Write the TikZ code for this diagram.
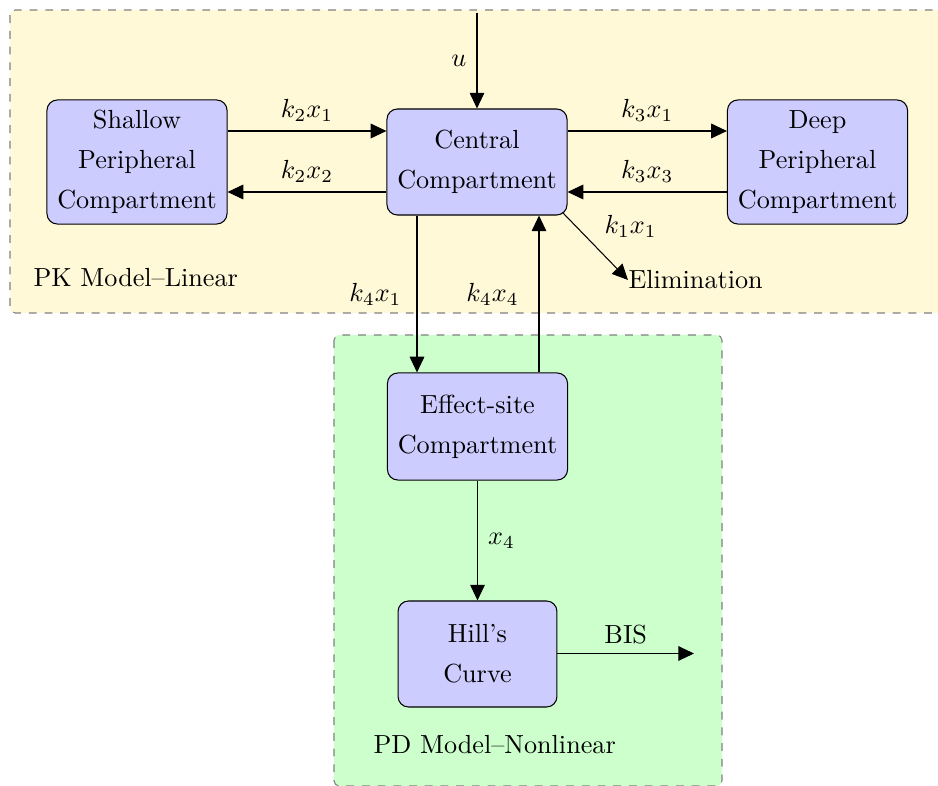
\documentclass[tikz,border=0pt]{standalone}
\usetikzlibrary{arrows.meta}
\definecolor{pkfill}{RGB}{255,249,215}
\definecolor{pdfill}{RGB}{204,255,204}
\definecolor{boxfill}{RGB}{204,204,255}
\begin{document}
\begin{tikzpicture}[x=0.382pt,y=-0.382pt,
  region/.style={draw=gray, dashed, rounded corners=2pt},
  compartment/.style={draw, fill=boxfill, rounded corners=4pt, align=center, inner sep=0pt, minimum width=68.8pt, font=\fontsize{10}{15.3}\selectfont},
  flow/.style={-{Triangle[length=6pt,width=5.6pt]}},
  plain/.style={font=\fontsize{10}{12}\selectfont},
]
\useasboundingbox (0,0) rectangle (938,786);
\path[region, fill=pkfill] (10,10) rectangle (960,313);
\path[region, fill=pdfill] (334,335) rectangle (722,786);

\node[compartment, minimum height=47.4pt] (shallow) at (137,162) {Shallow\\Peripheral\\Compartment};
\node[compartment, minimum height=40.5pt] (central) at (477,162) {Central\\Compartment};
\node[compartment, minimum height=47.4pt] (deep) at (817.5,162) {Deep\\Peripheral\\Compartment};
\node[compartment, minimum height=40.9pt] (effect) at (477.5,426.5) {Effect-site\\Compartment};
\node[compartment, minimum height=40.5pt, minimum width=60.7pt] (hill) at (477.5,654) {Hill's\\Curve};

\node[plain, anchor=west, inner sep=0pt] (elim) at (628,280) {Elimination};
\node[plain, anchor=base west, inner sep=0pt] (pk) at (33,287) {PK Model--Linear};
\node[plain, anchor=base west, inner sep=0pt] (pd) at (373,753) {PD Model--Nonlinear};

\coordinate (uin) at (477,13);
\coordinate (bisout) at (694,653.5);

\draw[flow] (uin) -- node[left=0.5pt] {$u$} (central.north);
\draw[flow] (shallow.east |- 0,131) -- node[above] {$k_2x_1$} (central.west |- 0,131);
\draw[flow] (central.west |- 0,192) -- node[above] {$k_2x_2$} (shallow.east |- 0,192);
\draw[flow] (central.east |- 0,131) -- node[above] {$k_3x_1$} (deep.west |- 0,131);
\draw[flow] (deep.west |- 0,192) -- node[above] {$k_3x_3$} (central.east |- 0,192);
\draw[flow] ([shift={(-5,-3)}]central.south east) -- node[above right] {$k_1x_1$} (elim.west);
\draw[flow] (central.south -| 417,0) -- node[left=2.4pt] {$k_4x_1$} (effect.north -| 417,0);
\draw[flow] (effect.north -| 539,0) -- node[left=4.3pt] {$k_4x_4$} (central.south -| 539,0);
\draw[flow] (effect.south) -- node[right=0.5pt] {$x_4$} (hill.north);
\draw[flow] (hill.east |- bisout) -- node[above] {BIS} (bisout);
\end{tikzpicture}
\end{document}
